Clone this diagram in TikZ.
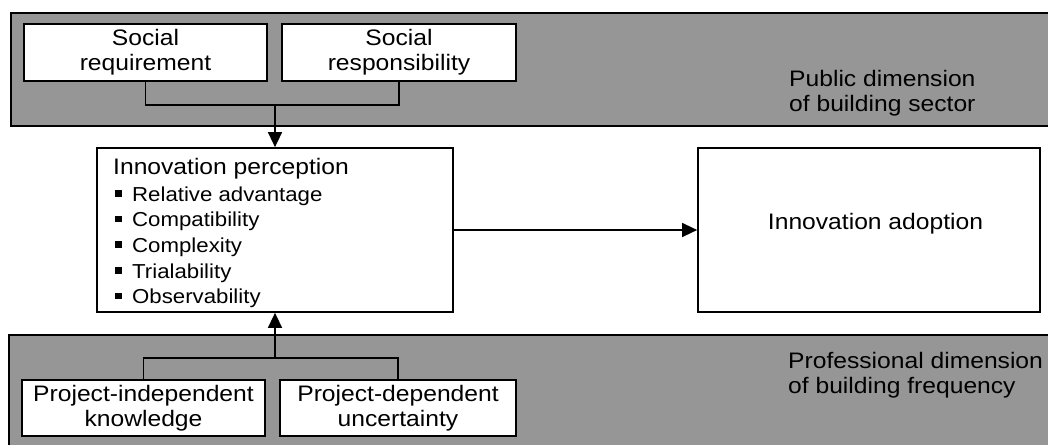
\documentclass[tikz,border=0pt]{standalone}
\usepackage{fontspec}
\setmainfont{Liberation Sans}[FakeStretch=1.1]
\usetikzlibrary{arrows.meta}
\definecolor{bandgray}{RGB}{150,150,150}
\tikzset{
  band/.style={draw=black, line width=2pt, fill=bandgray},
  wbox/.style={draw=black, line width=1.7pt, fill=white, inner sep=0pt, align=center,
    font=\fontsize{22.4}{25.4}\selectfont},
  conn/.style={draw=black, line width=1.4pt},
  arr/.style={conn, -{Triangle[length=15pt,width=14pt]}},
  lbl/.style={inner sep=0pt, font=\fontsize{22.4}{25.4}\selectfont},
  item/.style={inner sep=0pt, anchor=base west, font=\fontsize{20.2}{25}\selectfont},
}
\newcommand{\sqbullet}{\makebox[17pt][l]{\rule[4.5pt]{6.5pt}{6.5pt}}}
\begin{document}
\begin{tikzpicture}[x=1pt,y=-1pt]
\useasboundingbox (0,0) rectangle (1048,444);
\clip (0,0) rectangle (1048,444);
% bands
\path[band] (11,13) rectangle (1070,126);
\path[band] (9,335) rectangle (1070,470);
% band labels
\node[lbl, anchor=base west] (pub1) at (789,86) {Public dimension};
\node[lbl, anchor=base west] (pub2) at (789,111) {of building sector};
\node[lbl, anchor=base west] (pro1) at (788,368) {Professional dimension};
\node[lbl, anchor=base west] (pro2) at (788,393) {of building frequency};
% top boxes
\node[wbox, minimum width=243pt, minimum height=57pt] (sreq) at (145.5,52.5) {Social\\requirement};
\node[wbox, minimum width=234pt, minimum height=57pt] (sresp) at (399,52.5) {Social\\responsibility};
% bottom boxes
\node[wbox, minimum width=243pt, minimum height=56pt] (pik) at (143.5,408) {Project-independent\\knowledge};
\node[wbox, minimum width=236pt, minimum height=56pt] (pdu) at (398,408) {Project-dependent\\uncertainty};
% innovation perception
\node[wbox, minimum width=356pt, minimum height=164pt] (ip) at (275,230) {};
\node[lbl, anchor=base west] (iptitle) at (113,174) {Innovation perception};
\node[item] (i1) at (115,201) {\sqbullet Relative advantage};
\node[item] (i2) at (115,226.7) {\sqbullet Compatibility};
\node[item] (i3) at (115,252.4) {\sqbullet Complexity};
\node[item] (i4) at (115,278.1) {\sqbullet Trialability};
\node[item] (i5) at (115,303.8) {\sqbullet Observability};
% innovation adoption
\node[wbox, minimum width=342pt, minimum height=164pt] (ia) at (869,230) {};
\node[lbl] (iatext) at (875.5,224) {Innovation adoption};
% connectors
\coordinate (jt) at (275,105);
\coordinate (jb) at (275,358);
\draw[conn] (sreq.south) -- (sreq.south |- jt) -- (sresp.south |- jt) -- (sresp.south);
\draw[arr] (jt) -- (ip.north);
\draw[conn] (pik.north) -- (pik.north |- jb) -- (pdu.north |- jb) -- (pdu.north);
\draw[arr] (jb) -- (ip.south);
\draw[arr] (ip.east) -- (ia.west);
\end{tikzpicture}
\end{document}
